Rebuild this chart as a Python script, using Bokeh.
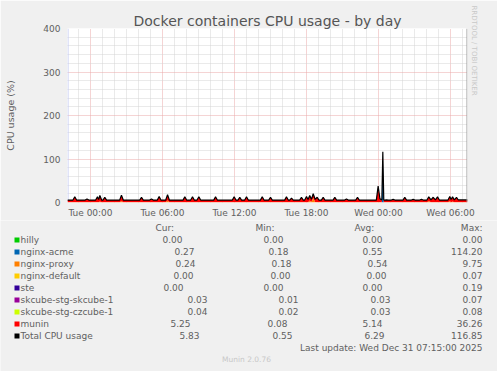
import numpy as np
from bokeh.plotting import figure
from bokeh.layouts import column, row
from bokeh.models import Span, FixedTicker, Title, Range1d
from bokeh.core.properties import value
from bokeh.embed import file_html
from bokeh.resources import INLINE

# ---------------- data (hours relative to Tue 00:00) ----------------
hours = [
    -1.92, -1.46, -1.31, -1.16, -0.44, -0.29, -0.14, 0.43, 0.58, 0.68,
    0.78, 0.93, 1.04, 1.19, 1.34, 2.43, 2.58, 2.73, 4.10, 4.25,
    4.40, 4.93, 5.08, 5.23, 5.57, 5.72, 5.87, 6.27, 6.42, 6.57,
    7.71, 7.86, 8.01, 8.35, 8.50, 8.65, 8.88, 9.03, 9.18, 10.27,
    10.42, 10.57, 11.82, 11.97, 12.12, 12.29, 12.44, 12.59, 12.85, 13.00,
    13.15, 14.16, 14.31, 14.46, 14.85, 15.00, 15.15, 16.18, 16.33, 16.48,
    16.60, 16.75, 16.90, 17.43, 17.58, 17.73, 17.85, 18.00, 18.13, 18.27,
    18.41, 18.56, 18.72, 18.89, 19.04, 19.24, 19.39, 19.54, 20.21, 20.36,
    20.51, 21.18, 21.33, 21.48, 22.10, 22.25, 22.40, 23.82, 23.97, 24.12,
    24.28, 24.36, 24.44, 24.52, 24.67, 24.82, 25.07, 25.22, 25.37, 26.04,
    26.19, 26.34, 26.74, 26.89, 27.04, 27.43, 27.58, 27.73, 28.04, 28.19,
    28.37, 28.56, 28.74, 28.92, 29.07, 29.79, 29.94, 30.05, 30.17, 30.32,
    30.50, 30.65, 31.42]

munin = [
    4.9, 5.0, 12.4, 5.0, 4.9, 7.4, 5.0, 5.0, 12.4, 6.0,
    13.7, 5.0, 5.0, 11.4, 5.0, 4.9, 13.7, 5.0, 5.0, 11.4,
    5.0, 4.9, 7.4, 5.0, 5.0, 13.4, 5.0, 5.0, 13.7, 5.0,
    4.9, 12.4, 5.0, 5.0, 12.4, 5.0, 5.0, 12.4, 5.0, 4.9,
    12.4, 5.0, 5.0, 12.4, 5.0, 5.0, 11.4, 5.0, 5.0, 12.4,
    5.0, 4.9, 12.4, 5.0, 5.0, 11.4, 5.0, 4.9, 12.4, 5.0,
    5.0, 9.4, 5.0, 5.0, 11.4, 5.0, 5.0, 13.4, 6.0, 11.7,
    6.0, 10.0, 6.0, 11.4, 5.0, 5.0, 11.4, 5.0, 4.9, 11.4,
    5.0, 5.0, 7.4, 5.0, 4.9, 11.4, 5.0, 5.0, 36.26, 8.0,
    5.0, 2.3, 5.0, 5.0, 5.4, 5.0, 5.0, 6.4, 5.0, 4.9,
    11.4, 5.0, 5.0, 6.4, 5.0, 5.0, 6.4, 5.0, 5.0, 9.7,
    5.5, 11.4, 5.5, 12.4, 5.0, 5.0, 10.7, 6.0, 10.7, 5.5,
    11.4, 5.2, 5.25]

nginx_proxy = [
    0.3, 0.3, 0.3, 0.3, 0.3, 0.3, 0.3, 0.3, 0.3, 0.3,
    2.0, 0.3, 0.3, 0.3, 0.3, 0.3, 3.0, 0.3, 0.3, 0.3,
    0.3, 0.3, 0.3, 0.3, 0.3, 0.3, 0.3, 0.3, 4.0, 0.3,
    0.3, 0.3, 0.3, 0.3, 0.3, 0.3, 0.3, 0.3, 0.3, 0.3,
    0.3, 0.3, 0.3, 0.3, 0.3, 0.3, 0.3, 0.3, 0.3, 0.3,
    0.3, 0.3, 0.3, 0.3, 0.3, 0.3, 0.3, 0.3, 0.3, 0.3,
    0.3, 0.3, 0.3, 0.3, 0.3, 0.3, 0.3, 0.3, 0.5, 4.0,
    1.0, 9.75, 1.0, 0.3, 0.3, 0.3, 0.3, 0.3, 0.3, 0.3,
    0.3, 0.3, 0.3, 0.3, 0.3, 0.3, 0.3, 0.3, 1.0, 0.3,
    0.3, 0.3, 0.3, 0.3, 0.3, 0.3, 0.3, 0.3, 0.3, 0.3,
    0.3, 0.3, 0.3, 0.3, 0.3, 0.3, 0.3, 0.3, 0.3, 3.0,
    0.3, 0.3, 0.3, 0.3, 0.3, 0.3, 3.0, 0.5, 2.0, 0.3,
    0.3, 0.3, 0.24]

nginx_acme = [
    0.27, 0.27, 0.27, 0.27, 0.27, 0.27, 0.27, 0.27, 0.27, 0.27,
    0.27, 0.27, 0.27, 0.27, 0.27, 0.27, 0.27, 0.27, 0.27, 0.27,
    0.27, 0.27, 0.27, 0.27, 0.27, 0.27, 0.27, 0.27, 0.27, 0.27,
    0.27, 0.27, 0.27, 0.27, 0.27, 0.27, 0.27, 0.27, 0.27, 0.27,
    0.27, 0.27, 0.27, 0.27, 0.27, 0.27, 0.27, 0.27, 0.27, 0.27,
    0.27, 0.27, 0.27, 0.27, 0.27, 0.27, 0.27, 0.27, 0.27, 0.27,
    0.27, 0.27, 0.27, 0.27, 0.27, 0.27, 0.27, 0.27, 0.27, 0.27,
    0.27, 0.27, 0.27, 0.27, 0.27, 0.27, 0.27, 0.27, 0.27, 0.27,
    0.27, 0.27, 0.27, 0.27, 0.27, 0.27, 0.27, 0.27, 0.27, 0.27,
    0.27, 114.2, 0.27, 0.27, 0.27, 0.27, 0.27, 0.27, 0.27, 0.27,
    0.27, 0.27, 0.27, 0.27, 0.27, 0.27, 0.27, 0.27, 0.27, 0.27,
    0.27, 0.27, 0.27, 0.27, 0.27, 0.27, 0.27, 0.27, 0.27, 0.27,
    0.27, 0.27, 0.27]

# flat (near-zero) series: single level
hilly_level = 0.0
nginx_default_level = 0.0
ste_level = 0.0
skcube_level = 0.03
czcube_level = 0.03

series_names = ["hilly", "nginx-acme", "nginx-proxy", "nginx-default", "ste",
                "skcube-stg-skcube-1", "skcube-stg-czcube-1", "munin",
                "Total CPU usage"]
series_colors = ["#00CC00", "#0066B3", "#FF8000", "#FFCC00", "#330099",
                 "#990099", "#CCFF00", "#FF0000", "#000000"]
cur_vals = ["0.00", "0.27", "0.24", "0.00", "0.00", "0.03", "0.04", "5.25", "5.83"]
min_vals = ["0.00", "0.18", "0.18", "0.00", "0.00", "0.01", "0.02", "0.08", "0.55"]
avg_vals = ["0.00", "0.55", "0.54", "0.00", "0.00", "0.03", "0.03", "5.14", "6.29"]
max_vals = ["0.00", "114.20", "9.75", "0.07", "0.19", "0.07", "0.08", "36.26", "116.85"]

y_ticks = [0, 100, 200, 300, 400]
x_ticks = [0, 6, 12, 18, 24, 30]
x_tick_labels = ["Tue 00:00", "Tue 06:00", "Tue 12:00", "Tue 18:00",
                 "Wed 00:00", "Wed 06:00"]

title_text = "Docker containers CPU usage - by day"
y_label_text = "CPU usage (%)"
last_update_text = "Last update: Wed Dec 31 07:15:00 2025"
footer_text = "Munin 2.0.76"
side_text = "RRDTOOL / TOBI OETIKER"

# ---------------- layout ----------------
W = 497
L, R, T, B = 67, 467, 28, 203
MAIN_H = 220
LEG_H = 371 - MAIN_H
PX_PER_H = 12.0
x0 = (L - 90) / PX_PER_H
x1 = x0 + (R - L) / PX_PER_H
Y_MAX = 400.0

FONT = "DejaVu Sans"
TXT = "#606060"
BG = "#F0F0F0"

p = figure(width=W, height=MAIN_H, x_range=(x0, x1), y_range=(0, Y_MAX),
           output_backend="svg", toolbar_location=None,
           background_fill_color="white", border_fill_color=BG,
           min_border_left=L, min_border_right=W - R,
           min_border_top=T, min_border_bottom=MAIN_H - B,
           outline_line_color=None)

# title
p.title.text = title_text
p.title.align = "center"
p.title.offset = -18.5
p.title.standoff = 0
p.title.text_font = FONT
p.title.text_font_size = "14px"
p.title.text_font_style = "normal"
p.title.text_color = "#555555"

# side text
p.add_layout(Title(text=side_text, align="left", offset=-23, standoff=4,
                   text_font=FONT, text_font_size="7px",
                   text_font_style="normal", text_color="#C8C8C8"), "right")

# grids
p.xgrid.ticker = FixedTicker(ticks=x_ticks,
                             minor_ticks=[h for h in range(-1, 32) if h % 6 != 0])
p.ygrid.ticker = FixedTicker(ticks=y_ticks,
                             minor_ticks=[v for v in range(20, 400, 20) if v % 100 != 0])
for g in (p.xgrid, p.ygrid):
    g.grid_line_color = "#EBA8A8"
    g.grid_line_dash = "1 1"
    g.grid_line_width = 1
    g.minor_grid_line_color = "#D4D4D4"
    g.minor_grid_line_dash = "1 1"
    g.minor_grid_line_width = 1

# axes
p.xaxis.ticker = FixedTicker(ticks=x_ticks)
p.xaxis.major_label_overrides = {t: s for t, s in zip(x_ticks, x_tick_labels)}
p.yaxis.ticker = FixedTicker(ticks=y_ticks)
for ax in (p.xaxis, p.yaxis):
    ax.axis_line_color = None
    ax.major_tick_line_color = None
    ax.minor_tick_line_color = None
    ax.major_tick_out = 0
    ax.major_tick_in = 0
    ax.major_label_text_font = FONT
    ax.major_label_text_font_size = "9px"
    ax.major_label_text_color = TXT
p.yaxis.major_label_standoff = 7
p.xaxis.major_label_standoff = 5
p.yaxis.axis_label = y_label_text
p.yaxis.axis_label_standoff = 24
p.yaxis.axis_label_text_font = FONT
p.yaxis.axis_label_text_font_size = "9.5px"
p.yaxis.axis_label_text_font_style = "normal"
p.yaxis.axis_label_text_color = TXT

# stacked areas
t = np.array(hours)
n = len(t)
layers = [np.full(n, hilly_level), np.array(nginx_acme), np.array(nginx_proxy),
          np.full(n, nginx_default_level), np.full(n, ste_level),
          np.full(n, skcube_level), np.full(n, czcube_level), np.array(munin)]
base = np.zeros(n)
for vals, col in zip(layers, series_colors[:8]):
    top = base + vals
    if np.any(vals > 0):
        p.varea(x=t, y1=base, y2=top, fill_color=col, fill_alpha=1.0)
    base = top
p.line(t, base, line_color="#000000", line_width=1.2)

# frame decorations
AX_COL = "#C3CAF2"
p.add_layout(Span(location=x0 + 0.5 / PX_PER_H, dimension="height",
                  line_color=AX_COL, line_width=1, level="underlay"))
p.add_layout(Span(location=x1 - 0.5 / PX_PER_H, dimension="height",
                  line_color="#9A9A9A", line_width=1))

# ---------------- legend panel (pixel coordinates) ----------------
lg = figure(width=W, height=LEG_H, x_range=Range1d(0, W),
            y_range=Range1d(371, MAIN_H), output_backend="svg",
            toolbar_location=None, x_axis_location=None, y_axis_location=None,
            background_fill_color=BG, border_fill_color=BG,
            min_border=0, min_border_left=0, min_border_right=0,
            min_border_top=0, min_border_bottom=0, outline_line_color=None)
lg.grid.visible = False

row_y = [239 + 12 * i for i in range(len(series_names))]
cur_right = [182, 194, 195, 193, 183, 207, 207, 190, 199]
min_right = [283, 288, 291, 290, 283, 298, 298, 287, 292]
avg_right = [382, 382, 387, 386, 382, 390, 390, 382, 384]
max_right = [482] * len(series_names)

txt_kw = dict(text_font=value(FONT), text_font_size="9px", text_color=TXT,
              text_baseline="middle")
head_y = 227.5
lg.text(x=[155, 255, 354], y=[head_y] * 3, text=["Cur:", "Min:", "Avg:"],
        text_align="left", **txt_kw)
lg.text(x=[482], y=[head_y], text=["Max:"], text_align="right", **txt_kw)

lg.quad(left=[14] * 9, right=[19] * 9, top=[y - 2 for y in row_y],
        bottom=[y + 3 for y in row_y], fill_color=series_colors, line_color=None)
lg.text(x=[20] * 9, y=row_y, text=series_names, text_align="left", **txt_kw)
lg.text(x=cur_right, y=row_y, text=cur_vals, text_align="right", **txt_kw)
lg.text(x=min_right, y=row_y, text=min_vals, text_align="right", **txt_kw)
lg.text(x=avg_right, y=row_y, text=avg_vals, text_align="right", **txt_kw)
lg.text(x=max_right, y=row_y, text=max_vals, text_align="right", **txt_kw)
lg.text(x=[482], y=[347], text=[last_update_text], text_align="right", **txt_kw)
lg.text(x=[246], y=[359], text=[footer_text], text_align="center",
        text_font=value(FONT), text_font_size="7.5px", text_color="#C8C8C8",
        text_baseline="middle")

layout = column(p, row(lg, spacing=0), spacing=0)
open("out.html", "w").write(file_html(layout, INLINE))
